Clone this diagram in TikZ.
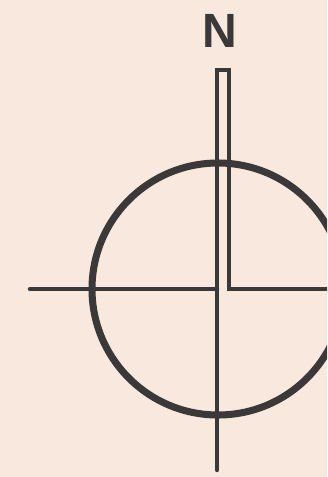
\documentclass[tikz,border=0pt]{standalone}
\usepackage{fontspec}
\setmainfont{Liberation Sans}
\usetikzlibrary{positioning}
\definecolor{paper}{RGB}{248, 232, 221}
\definecolor{ink}{RGB}{58, 56, 56}
\tikzset{
    stroke/.style={draw=ink, line width=3.8pt, line cap=round, line join=miter},
    ring/.style={draw=ink, line width=6pt},
    letter/.style={text=ink, font=\bfseries\fontsize{41}{41}\selectfont, inner sep=0pt}
}
\begin{document}
\begin{tikzpicture}[x=0.03cm, y=-0.03cm]
        \fill[paper] (0,0) rectangle (327,477);
        \clip (0,0) rectangle (327,477);
        \coordinate (centre) at (218,289);
        \coordinate (west) at (30,289);
        \coordinate (east) at (340,289);
        \coordinate (south) at (217,470);
        \coordinate (tipleft) at (217,70);
        \coordinate (tipright) at (229,70);
        \node[letter] (north) at (220,31) {N};

        \draw[ring] (centre) circle[radius=3.78cm];
        \draw[stroke] (west)--(centre -| south);
        \draw[stroke] (south)--(tipleft)--(tipright)--(tipright |- centre)--(east);
    \end{tikzpicture}
\end{document}
